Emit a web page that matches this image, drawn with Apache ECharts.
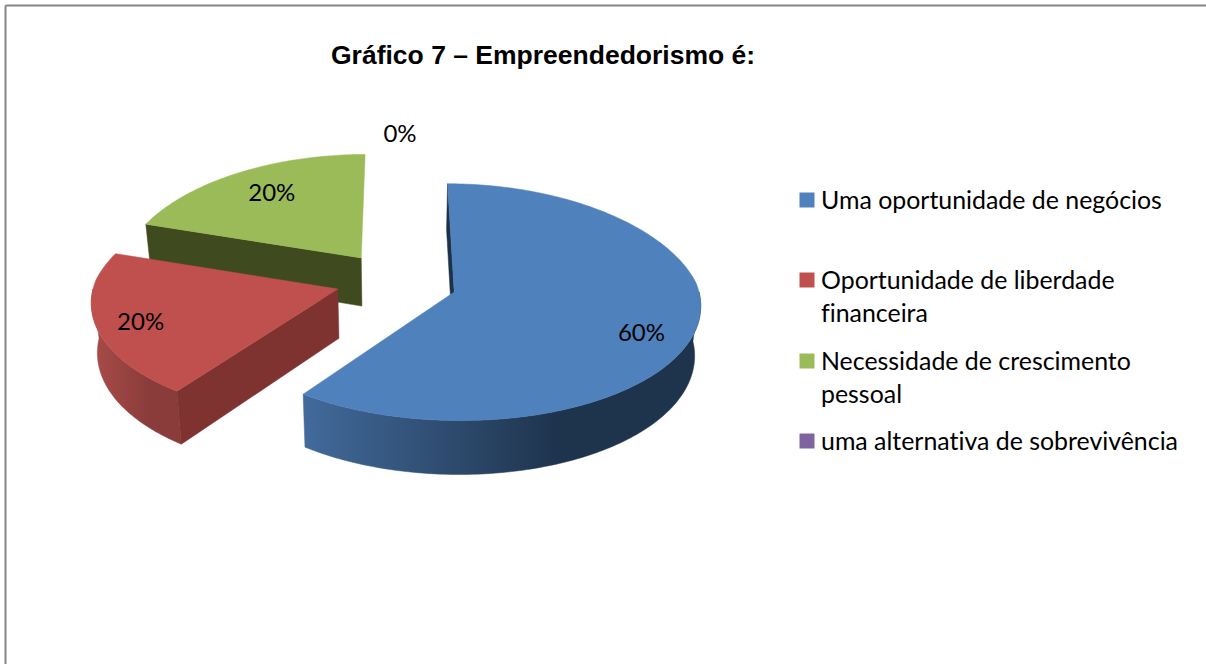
<!DOCTYPE html>
<html>
<head>
<meta charset="utf-8">
<style>
  html, body { margin: 0; padding: 0; background: #fff; }
  #chart { width: 1206px; height: 664px; }
  #chart text { font-variant-ligatures: none; }
</style>
<script src="https://cdn.jsdelivr.net/npm/echarts@6/dist/echarts.min.js"></script>
</head>
<body>
<div id="chart"></div>
<script>
const titleText = "Gráfico 7 – Empreendedorismo é:";
const categories = [
  "Uma oportunidade de negócios",
  "Oportunidade de liberdade\nfinanceira",
  "Necessidade de crescimento\npessoal",
  "uma alternativa de sobrevivência",
];
const shares = [60, 20, 20, 0];

const topColors = ["#4F81BD", "#C0504D", "#9BBB59", "#8064A2"];
const cutColors = ["#1D3149", "#7F3331", "#3F4A1F", "#4C3B61"];
const wallFrom = ["#426A9B", "#A84C49", "#55652F", "#5F4A78"];
const wallTo = ["#1E334C", "#8A3C3A", "#3F4A1F", "#4C3B61"];
const legendTops = [182, 229, 310, 423];

// the disc is a flat plane seen at an angle, near side bigger than far side
const view = {
  cx: 396,
  cy: 283,
  rx: 243,
  ry: 116,
  persp: 0.085,
  perspFarX: 0.13,
  perspNearX: 0.095,
  depth: 49,
  lowerScale: 0.98,
  explode: 0.25,
};
// small upward shift of the exploded slices, in pixels
const sliceLift = [0, 3, 2, 0];
// where the percent sits in each slice, as part of the radius plus a nudge
const labelRadius = [0.78, 0.8, 0.75, 1.25];
const labelNudge = [[0, 11], [-5, -1], [5, -4], [4, 4]];

function project(x, y, down, lift) {
  const s = 1 / (1 + view.persp * y);
  const sx = 1 / (1 + (y > 0 ? view.perspFarX : view.perspNearX) * y);
  const px = view.rx * x * sx;
  return [
    view.cx + (down ? px * view.lowerScale : px),
    view.cy - view.ry * y * s + (down ? view.depth * s : 0) - (lift || 0),
  ];
}

function sliceRange(index) {
  let before = 0;
  for (let i = 0; i < index; i++) before += shares[i];
  return [(before / 100) * 360, ((before + shares[index]) / 100) * 360];
}

function planePoint(angle, r, origin) {
  const rad = (angle * Math.PI) / 180;
  return [origin[0] + r * Math.sin(rad), origin[1] + r * Math.cos(rad)];
}

function renderSlice(index, api) {
  const value = api.value(0);
  const [start, end] = sliceRange(index);
  const mid = (start + end) / 2;
  const origin = planePoint(mid, view.explode, [0, 0]);
  const lift = sliceLift[index];
  const children = [];

  if (value > 0) {
    const rim = [];
    const nearRim = [];
    for (let a = start; a <= end; a += 1) {
      rim.push(planePoint(a, 1, origin));
      // the outer wall only shows on the near half of the circle
      if (a >= 90 && a <= 270) nearRim.push(planePoint(a, 1, origin));
    }

    const upper = (p) => project(p[0], p[1], false, lift);
    const lower = (p) => project(p[0], p[1], true, lift);
    const wall = (pts, fill) => ({
      type: "polygon",
      shape: { points: pts },
      style: { fill: fill, stroke: fill, lineWidth: 0.5 },
    });
    const face = (p) => [upper(origin), upper(p), lower(p), lower(origin)];

    if (nearRim.length > 1) {
      children.push(
        wall(
          nearRim.map(upper).concat(nearRim.slice().reverse().map(lower)),
          new echarts.graphic.LinearGradient(0, 0, 1, 0, [
            { offset: 0, color: wallFrom[index] },
            { offset: 0.65, color: wallTo[index] },
            { offset: 1, color: wallTo[index] },
          ])
        )
      );
    }
    // only the cut faces turned towards the viewer
    if (Math.sin((start * Math.PI) / 180) <= 0) children.push(wall(face(rim[0]), cutColors[index]));
    if (Math.sin((end * Math.PI) / 180) > 1e-6) children.push(wall(face(rim[rim.length - 1]), cutColors[index]));
    children.push(wall([upper(origin)].concat(rim.map(upper)), topColors[index]));
  }

  const spot = planePoint(mid, labelRadius[index], origin);
  const at = project(spot[0], spot[1], false, 0);
  children.push({
    type: "text",
    x: at[0] + labelNudge[index][0],
    y: at[1] + labelNudge[index][1],
    style: {
      text: value + "%",
      font: "24px Lato",
      fill: "#000",
      align: "center",
      verticalAlign: "middle",
    },
  });

  return { type: "group", children: children };
}

// far slices first so the near ones paint over them
const drawOrder = [3, 2, 1, 0];

const option = {
  animation: false,
  title: {
    text: titleText,
    left: 331,
    top: 41,
    padding: 0,
    textStyle: { fontFamily: "Liberation Sans", fontSize: 26.5, fontWeight: "bold", color: "#000" },
  },
  graphic: [
    { type: "line", shape: { x1: 5.5, y1: 5.5, x2: 5.5, y2: 664 }, style: { stroke: "#868686", lineWidth: 2 } },
    { type: "line", shape: { x1: 5.5, y1: 5.5, x2: 1206, y2: 5.5 }, style: { stroke: "#868686", lineWidth: 2 } },
  ],
  legend: categories.map((name, i) => ({
    data: [name],
    left: 799.5,
    top: legendTops[i],
    padding: 0,
    // the empty stroke above the square sits it a little lower than the text middle
    icon: "path://M0 -2L0 -2M0 0H10V10H0Z",
    itemWidth: 18,
    itemHeight: 18,
    selectedMode: false,
    // blank first line keeps the marker level with the first line of wrapped names
    formatter: (n) => (n.includes("\n") ? " \n" + n : n),
    textStyle: {
      fontFamily: "Lato",
      fontSize: 24.9,
      color: "#000",
      lineHeight: 33,
    },
  })),
  series: drawOrder.map((i) => ({
    type: "custom",
    name: categories[i],
    coordinateSystem: "none",
    silent: true,
    itemStyle: { color: topColors[i] },
    data: [[shares[i]]],
    renderItem: (params, api) => renderSlice(i, api),
  })),
};

const chart = echarts.init(document.getElementById("chart"), null, { renderer: "svg" });
chart.setOption(option);
</script>
</body>
</html>
